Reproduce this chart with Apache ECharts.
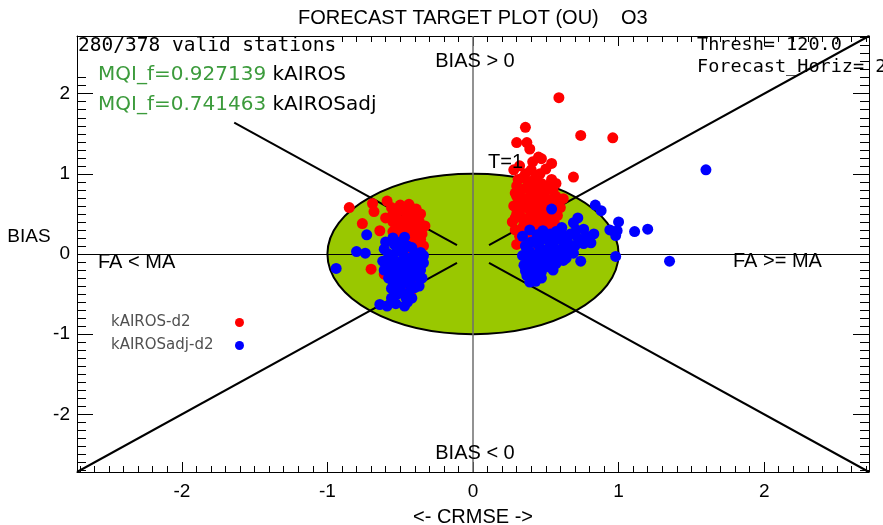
<!DOCTYPE html>
<html>
<head>
<meta charset="utf-8">
<title>Forecast target plot (OU) O3</title>
<script src="https://cdn.jsdelivr.net/npm/echarts@6/dist/echarts.min.js"></script>
<style>
  html, body { margin: 0; padding: 0; background: #ffffff; }
  #chart { width: 883px; height: 525px; }
</style>
</head>
<body>
<div id="chart"></div>
<script>
// Axis extent (symmetric, same for CRMSE and BIAS)
const axisMin = -2.72;
const axisMax = 2.72;

const seriesNames = ['kAIROS-d2', 'kAIROSadj-d2'];

// Normalised (CRMSE, BIAS) per station, model kAIROS
const kairos = [
  [0.59, 1.95], [0.36, 1.58], [0.30, 1.39], [0.37, 1.39], [0.39, 1.31], [0.74, 1.48],
  [0.96, 1.45], [0.41, 1.15], [0.47, 1.19], [0.45, 1.21], [0.54, 1.13], [0.50, 1.06],
  [0.28, 1.05], [0.34, 0.95], [0.46, 1.00], [0.41, 0.91], [0.54, 0.93], [0.69, 0.96],
  [0.36, 1.00], [0.38, 0.88], [0.29, 0.76], [0.50, 0.79], [0.59, 0.66], [0.62, 0.69],
  [0.31, 0.63], [0.41, 0.63], [0.34, 0.45], [0.45, 0.45], [0.34, 0.33], [0.50, 0.41],
  [0.52, 0.25], [0.55, 0.22], [0.30, 0.85], [0.33, 0.70], [0.36, 0.58], [0.40, 0.52],
  [0.44, 0.60], [0.48, 0.70], [0.52, 0.55], [0.30, 0.50], [0.27, 0.40], [0.32, 0.22],
  [0.38, 0.28], [0.43, 0.35], [0.47, 0.28], [0.40, 0.75], [0.36, 0.82], [0.44, 0.84],
  [0.55, 0.60], [0.58, 0.48], [0.28, 0.60], [0.42, 0.18], [0.37, 0.15], [0.30, 0.12],
  [0.56, 0.38], [0.49, 0.48], [0.35, 0.40], [0.45, 0.10], [0.53, 0.68], [0.57, 0.55],
  [0.29, 0.30], [0.33, 0.28], [0.39, 0.35], [0.46, 0.40], [0.53, 0.33], [0.58, 0.30],
  [0.29, 0.45], [0.38, 0.45], [0.42, 0.42], [0.55, 0.46], [0.32, 0.55], [0.44, 0.52],
  [0.48, 0.58], [0.60, 0.58], [0.35, 0.65], [0.45, 0.67], [0.51, 0.62], [0.57, 0.72],
  [0.30, 0.72], [0.38, 0.70], [0.43, 0.76], [0.49, 0.78], [0.55, 0.80], [0.33, 0.80],
  [0.39, 0.82], [0.47, 0.88], [0.52, 0.86], [0.31, 0.93], [0.43, 0.96], [0.57, 0.88],
  [0.35, 0.20], [0.40, 0.24], [0.49, 0.22], [0.51, 0.30], [0.32, 1.10], [0.40, 1.05],
  [-0.85, 0.58], [-0.69, 0.63], [-0.68, 0.53], [-0.59, 0.66], [-0.50, 0.61], [-0.39, 0.56],
  [-0.76, 0.38], [-0.64, 0.29], [-0.55, 0.50], [-0.46, 0.45], [-0.37, 0.41], [-0.52, 0.33],
  [-0.43, 0.29], [-0.35, 0.25], [-0.52, 0.16], [-0.39, 0.13], [-0.38, 0.01], [-0.70, -0.19],
  [-0.61, -0.25], [-0.43, -0.50], [-0.45, 0.52], [-0.42, 0.36], [-0.48, 0.38], [-0.40, 0.20],
  [-0.36, 0.33], [-0.44, 0.05], [-0.50, 0.25], [-0.34, 0.10], [-0.47, 0.10], [-0.41, 0.48],
  [-0.55, 0.40], [-0.48, 0.55], [-0.40, -0.05], [-0.45, -0.15], [-0.50, -0.25], [-0.38, -0.35],
  [-0.46, -0.40], [-0.56, 0.58], [-0.52, 0.52], [-0.44, 0.62], [-0.42, 0.57], [-0.36, 0.50],
  [-0.53, 0.44], [-0.47, 0.30], [-0.40, 0.40], [-0.38, 0.30], [-0.45, 0.22], [-0.49, 0.18],
  [-0.42, 0.15], [-0.36, 0.18], [-0.55, 0.28], [-0.60, 0.45], [-0.33, 0.35], [-0.43, 0.08],
  [-0.50, 0.05]
];

// Normalised (CRMSE, BIAS) per station, model kAIROSadj
const kairosAdj = [
  [-0.73, 0.24], [-0.80, 0.03], [-0.74, 0.01], [-0.94, -0.18], [-0.47, 0.21], [-0.61, 0.06],
  [-0.62, -0.09], [-0.52, 0.04], [-0.43, -0.05], [-0.34, -0.11], [-0.57, -0.21], [-0.48, -0.21],
  [-0.39, -0.25], [-0.52, -0.34], [-0.43, -0.38], [-0.37, -0.40], [-0.56, -0.43], [-0.56, -0.55],
  [-0.45, -0.60], [-0.64, -0.63], [-0.59, -0.65], [-0.50, -0.10], [-0.45, 0.10], [-0.40, 0.00],
  [-0.55, -0.05], [-0.47, -0.30], [-0.42, -0.15], [-0.52, -0.25], [-0.38, -0.05], [-0.44, -0.48],
  [-0.50, -0.45], [-0.36, -0.20], [-0.58, -0.30], [-0.48, 0.00], [-0.41, -0.28], [-0.54, 0.12],
  [-0.35, -0.30], [-0.46, -0.55], [-0.60, 0.15], [-0.55, 0.20], [-0.50, 0.15], [-0.42, 0.08],
  [-0.36, 0.02], [-0.58, -0.12], [-0.53, -0.15], [-0.46, -0.08], [-0.39, -0.12], [-0.34, -0.02],
  [-0.61, -0.20], [-0.55, -0.35], [-0.49, -0.38], [-0.43, -0.22], [-0.37, -0.30], [-0.40, -0.42],
  [-0.52, -0.50], [-0.47, -0.65], [-0.53, -0.62], [-0.42, -0.55], [-0.58, 0.00], [-0.51, 0.08],
  [-0.44, -0.35], [-0.39, -0.18], [-0.48, -0.13],
  [0.84, 0.61], [0.88, 0.54], [1.00, 0.40], [0.94, 0.30], [0.99, 0.29], [0.98, 0.23],
  [1.11, 0.28], [1.20, 0.31], [1.35, -0.09], [0.98, -0.03], [1.60, 1.05], [0.54, 0.56],
  [0.69, 0.39], [0.72, 0.45], [0.76, 0.31], [0.83, 0.25], [0.39, 0.30], [0.48, 0.29],
  [0.67, 0.25], [0.60, 0.18], [0.76, 0.13], [0.81, 0.14], [0.74, -0.09], [0.62, -0.08],
  [0.37, 0.06], [0.46, 0.08], [0.54, 0.01], [0.38, -0.09], [0.36, -0.21], [0.43, -0.34],
  [0.51, -0.11], [0.69, 0.01], [0.40, 0.15], [0.45, 0.00], [0.50, 0.20], [0.42, -0.05],
  [0.55, 0.10], [0.48, -0.15], [0.58, 0.05], [0.40, -0.20], [0.44, -0.25], [0.52, -0.05],
  [0.62, 0.08], [0.65, 0.15], [0.36, 0.10], [0.57, -0.12], [0.70, 0.10], [0.40, -0.30],
  [0.53, 0.25], [0.34, -0.02], [0.39, 0.03], [0.44, 0.13], [0.49, 0.05], [0.53, 0.14],
  [0.58, 0.20], [0.63, 0.22], [0.72, 0.20], [0.35, -0.14], [0.41, -0.12], [0.46, -0.08],
  [0.50, -0.02], [0.56, -0.03], [0.60, 0.00], [0.65, 0.05], [0.37, -0.27], [0.42, -0.18],
  [0.47, -0.22], [0.52, -0.16], [0.55, -0.20], [0.34, 0.22], [0.44, 0.24], [0.47, 0.18],
  [0.57, 0.28], [0.61, 0.33], [0.39, -0.35], [0.47, -0.30], [0.78, 0.22], [0.71, 0.30],
  [0.64, -0.05]
];

// Target circle: centre x, centre y, radius (T = 1)
const targetCircle = [[0, 0, 1]];

// Quadrant diagonals |BIAS| = |CRMSE|, broken near the origin
const diagonalSegments = [
  [[-1.64, 1.64], [-0.11, 0.11]],
  [[axisMin, axisMin], [-0.11, -0.11]],
  [[0.11, 0.11], [axisMax, axisMax]],
  [[0.11, -0.11], [axisMax, axisMin]]
];

// Zero lines through the origin
const zeroLines = [
  { coords: [[axisMin, 0], [axisMax, 0]], lineStyle: { color: '#000000', width: 1, opacity: 1 } },
  { coords: [[0, axisMin], [0, axisMax]], lineStyle: { color: '#6e6e6e', width: 1.5, opacity: 1 } }
];

const stationInfo = '280/378 valid stations';
const mqiLines = [['MQI_f=0.927139', 'kAIROS'], ['MQI_f=0.741463', 'kAIROSadj']];
const threshText = 'Thresh= 120.0';
const horizText = 'Forecast_Horiz= 2';

const sans = 'Liberation Sans, Arial, sans-serif';
const mono = 'DejaVu Sans Mono, monospace';
const dejavu = 'DejaVu Sans, Verdana, sans-serif';

function frameAxis(position, isX, withLabels) {
  return {
    type: 'value',
    position: position,
    min: axisMin,
    max: axisMax,
    splitNumber: 5,
    axisLine: { show: true, onZero: false, lineStyle: { color: '#000000', width: 1 } },
    axisTick: { show: true, inside: true, length: isX ? 10 : 16, lineStyle: { color: '#000000', width: 1 } },
    minorTick: { show: true, splitNumber: 10, length: isX ? 6 : 9, lineStyle: { color: '#000000', width: 1 } },
    splitLine: { show: false },
    minorSplitLine: { show: false },
    axisLabel: {
      show: withLabels,
      showMinLabel: false,
      showMaxLabel: false,
      color: '#000000',
      fontFamily: sans,
      fontSize: 19,
      margin: isX ? 10 : 7
    }
  };
}

const xBottom = Object.assign(frameAxis('bottom', true, true), {
  name: '<- CRMSE ->',
  nameLocation: 'middle',
  nameGap: 35,
  nameTextStyle: { color: '#000000', fontFamily: sans, fontSize: 20 }
});
const yLeft = frameAxis('left', false, true);
const xTop = frameAxis('top', true, false);
const yRight = frameAxis('right', false, false);

function label(text, x, y, align, font, size, extra) {
  return {
    type: 'text',
    x: x,
    y: y,
    z: 100,
    silent: true,
    style: Object.assign({
      text: text,
      fill: '#000000',
      font: size + 'px ' + font,
      align: align,
      verticalAlign: 'middle'
    }, extra || {})
  };
}

function mqiLabel(pair, y) {
  return {
    type: 'text', x: 98, y: y, z: 100, silent: true,
    style: {
      text: '{g|' + pair[0] + '} {k|' + pair[1] + '}',
      font: '20px ' + dejavu, verticalAlign: 'middle',
      rich: { g: { fill: '#3c9b3c', font: '20px ' + dejavu }, k: { fill: '#000000', font: '20px ' + dejavu } }
    }
  };
}

const chart = echarts.init(document.getElementById('chart'), null, { renderer: 'canvas' });

chart.setOption({
  animation: false,
  backgroundColor: '#ffffff',
  title: {
    text: 'FORECAST TARGET PLOT (OU)    O3',
    left: 293,
    top: 3,
    textStyle: { color: '#000000', fontFamily: sans, fontSize: 20, fontWeight: 'normal' }
  },
  grid: { left: 77, right: 14, top: 36, bottom: 53, containLabel: false, outerBoundsMode: 'none' },
  xAxis: [xBottom, xTop],
  yAxis: [yLeft, yRight],
  legend: {
    data: seriesNames,
    orient: 'vertical',
    left: 111,
    top: 315,
    padding: 0,
    align: 'right',
    icon: 'circle',
    itemWidth: 9,
    itemHeight: 9,
    itemGap: 8,
    selectedMode: false,
    formatter: function (name) { return '{t|' + name + '}'; },
    textStyle: {
      color: '#505050',
      fontFamily: dejavu,
      fontSize: 15,
      rich: { t: { width: 119, align: 'left', color: '#505050', fontFamily: dejavu, fontSize: 15, lineHeight: 15 } }
    }
  },
  series: [
    {
      type: 'custom',
      name: 'target',
      silent: true,
      z: 1,
      clip: false,
      data: targetCircle,
      encode: { x: 0, y: 1 },
      renderItem: function (params, api) {
        const c = api.coord([api.value(0), api.value(1)]);
        const s = api.size([api.value(2), api.value(2)]);
        return {
          type: 'ellipse',
          shape: { cx: c[0], cy: c[1], rx: s[0], ry: s[1] },
          style: { fill: '#99c800', stroke: '#000000', lineWidth: 2 }
        };
      }
    },
    {
      type: 'lines',
      name: 'zero',
      coordinateSystem: 'cartesian2d',
      silent: true,
      z: 2,
      lineStyle: { opacity: 1 },
      data: zeroLines
    },
    {
      type: 'lines',
      name: 'diagonals',
      coordinateSystem: 'cartesian2d',
      silent: true,
      z: 2,
      lineStyle: { color: '#000000', width: 2, opacity: 1 },
      data: diagonalSegments.map(function (seg) { return { coords: seg }; })
    },
    {
      type: 'scatter',
      name: seriesNames[0],
      z: 3,
      symbol: 'circle',
      symbolSize: 11,
      itemStyle: { color: '#ff0000', opacity: 1 },
      data: kairos
    },
    {
      type: 'scatter',
      name: seriesNames[1],
      z: 4,
      symbol: 'circle',
      symbolSize: 11,
      itemStyle: { color: '#0000ff', opacity: 1 },
      data: kairosAdj
    }
  ],
  graphic: [
    // blank panel behind the station count
    { type: 'rect', z: 90, silent: true, shape: { x: 78, y: 37, width: 258, height: 20 }, style: { fill: '#ffffff' } },
    { type: 'rect', z: 90, silent: true, shape: { x: 78, y: 37, width: 17, height: 37 }, style: { fill: '#ffffff' } },
    label(stationInfo, 78, 46, 'left', mono, 19.5),
    mqiLabel(mqiLines[0], 75),
    mqiLabel(mqiLines[1], 105),
    label(threshText, 697, 45, 'left', mono, 18.5),
    label(horizText, 697, 67, 'left', mono, 18.5),
    label('BIAS', 29, 237, 'center', sans, 19),
    label('BIAS > 0', 475, 61, 'center', sans, 20),
    label('BIAS < 0', 475, 453, 'center', sans, 20),
    label('FA < MA', 98, 262, 'left', sans, 20),
    label('FA >= MA', 733, 261, 'left', sans, 20),
    label('T=1', 488, 162, 'left', sans, 20)
  ]
});
</script>
</body>
</html>
